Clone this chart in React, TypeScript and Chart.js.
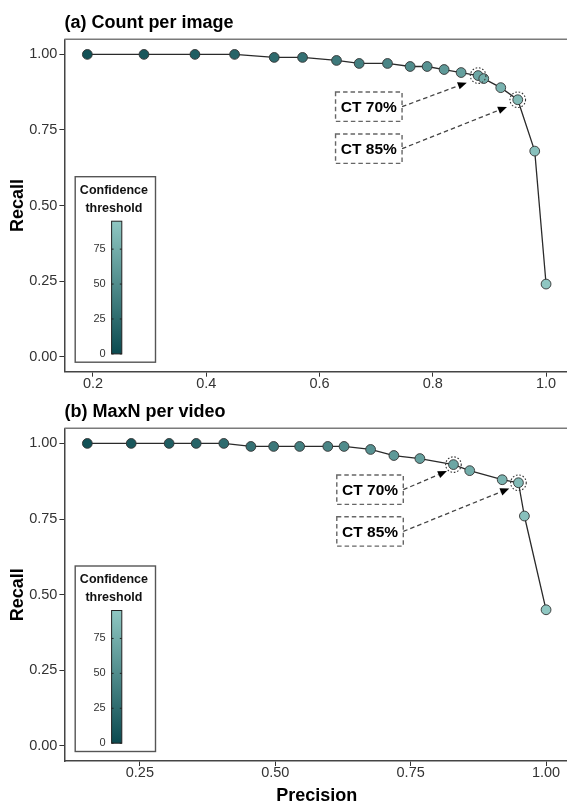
import React, { useEffect, useRef } from "react";
import { Chart, registerables } from "chart.js";
Chart.register(...registerables);

const FONT = "'Liberation Sans', Arial, Helvetica, sans-serif";
Chart.defaults.font.family = FONT;

// ---------- data ----------
const THRESHOLDS = [5, 10, 15, 20, 25, 30, 35, 40, 45, 50, 55, 60, 65, 70, 75, 80, 85, 90, 95];

const PRECISION_A = [0.19, 0.29, 0.38, 0.45, 0.52, 0.57, 0.63, 0.67, 0.72, 0.76, 0.79, 0.82, 0.85, 0.88, 0.89, 0.92, 0.95, 0.98, 1.0];
const RECALL_A = [1.0, 1.0, 1.0, 1.0, 0.99, 0.99, 0.98, 0.97, 0.97, 0.96, 0.96, 0.95, 0.94, 0.93, 0.92, 0.89, 0.85, 0.68, 0.24];

const PRECISION_B = [0.153, 0.234, 0.304, 0.354, 0.405, 0.455, 0.497, 0.545, 0.597, 0.627, 0.676, 0.719, 0.767, 0.829, 0.859, 0.919, 0.949, 0.96, 1.0];
const RECALL_B = [1.0, 1.0, 1.0, 1.0, 1.0, 0.99, 0.99, 0.99, 0.99, 0.99, 0.98, 0.96, 0.95, 0.93, 0.91, 0.88, 0.87, 0.76, 0.45];

const X_TICKS_A = [0.2, 0.4, 0.6, 0.8, 1.0];
const X_TICKS_B = [0.25, 0.5, 0.75, 1.0];
const Y_TICKS = [0, 0.25, 0.5, 0.75, 1.0];
const COLORBAR_TICKS = [0, 25, 50, 75];
const COLOR_LIMITS = [0, 95];

const CT_LABELS = ["CT 70%", "CT 85%"];
const CT_THRESHOLDS = [70, 85];
const LABEL_X_A = [0.687, 0.687];
const LABEL_Y_A = [0.827, 0.688];
const TIP_X_A = [0.86, 0.931];
const TIP_Y_A = [0.9065, 0.826];
const LABEL_X_B = [0.675, 0.675];
const LABEL_Y_B = [0.847, 0.709];
const TIP_X_B = [0.817, 0.932];
const TIP_Y_B = [0.9085, 0.851];

// ---------- colour scale ----------
const LOW = [11, 74, 80];
const HIGH = [143, 199, 194];
function colorFor(v: number) {
  const t = Math.max(0, Math.min(1, (v - COLOR_LIMITS[0]) / (COLOR_LIMITS[1] - COLOR_LIMITS[0])));
  const c = LOW.map((l, i) => Math.round(l + (HIGH[i] - l) * t));
  return `rgb(${c[0]},${c[1]},${c[2]})`;
}

function expand(vals: number[]) {
  const mn = Math.min(...vals), mx = Math.max(...vals);
  const r = mx - mn;
  return [mn - 0.05 * r, mx + 0.05 * r];
}

type PanelCfg = {
  title: string;
  prec: number[];
  rec: number[];
  xTicks: number[];
  xDec: number;
  labelX: number[];
  labelY: number[];
  tipX: number[];
  tipY: number[];
  padTop: number;
  canvasH: number;
  xAxisH: number;
  xTitle?: string;
};

function makeDecor(cfg: PanelCfg) {
  return {
    id: "decor",
    afterDraw(chart: any) {
      const ctx = chart.ctx as CanvasRenderingContext2D;
      const ca = chart.chartArea;
      const xs = chart.scales.x;
      const ys = chart.scales.y;
      ctx.save();

      // top border
      ctx.strokeStyle = "#7a7a7a";
      ctx.lineWidth = 1.5;
      ctx.beginPath();
      ctx.moveTo(ca.left, ca.top);
      ctx.lineTo(ca.right, ca.top);
      ctx.stroke();

      // panel title
      ctx.fillStyle = "#000";
      ctx.font = `bold 18px ${FONT}`;
      ctx.textAlign = "left";
      ctx.textBaseline = "middle";
      ctx.fillText(cfg.title, ca.left, ca.top - 16.6);

      // dotted circles around highlighted thresholds
      CT_THRESHOLDS.forEach((t) => {
        const i = THRESHOLDS.indexOf(t);
        const px = xs.getPixelForValue(cfg.prec[i]);
        const py = ys.getPixelForValue(cfg.rec[i]);
        ctx.strokeStyle = "#333";
        ctx.lineWidth = 1.1;
        ctx.setLineDash([1.6, 1.8]);
        ctx.beginPath();
        ctx.arc(px, py, 7.8, 0, Math.PI * 2);
        ctx.stroke();
      });
      ctx.setLineDash([]);

      // annotation boxes + arrows
      const bw = 66.5, bh = 29.3;
      CT_LABELS.forEach((lab, k) => {
        const cx = xs.getPixelForValue(cfg.labelX[k]);
        const cy = ys.getPixelForValue(cfg.labelY[k]);
        ctx.strokeStyle = "#666";
        ctx.lineWidth = 1.4;
        ctx.setLineDash([4.5, 3]);
        ctx.strokeRect(cx - bw / 2, cy - bh / 2, bw, bh);
        ctx.setLineDash([]);
        ctx.fillStyle = "#000";
        ctx.font = `bold 15.5px ${FONT}`;
        ctx.textAlign = "center";
        ctx.textBaseline = "middle";
        ctx.fillText(lab, cx, cy + 1);

        const sx = cx + bw / 2, sy = cy;
        const tx = xs.getPixelForValue(cfg.tipX[k]);
        const ty = ys.getPixelForValue(cfg.tipY[k]);
        const ang = Math.atan2(ty - sy, tx - sx);
        const hl = 9, hw = 3.8;
        const bxp = tx - hl * Math.cos(ang), byp = ty - hl * Math.sin(ang);
        ctx.strokeStyle = "#444";
        ctx.lineWidth = 1.3;
        ctx.setLineDash([4.5, 3]);
        ctx.beginPath();
        ctx.moveTo(sx, sy);
        ctx.lineTo(bxp, byp);
        ctx.stroke();
        ctx.setLineDash([]);
        ctx.fillStyle = "#000";
        ctx.beginPath();
        ctx.moveTo(tx, ty);
        ctx.lineTo(bxp + hw * Math.sin(ang), byp - hw * Math.cos(ang));
        ctx.lineTo(bxp - hw * Math.sin(ang), byp + hw * Math.cos(ang));
        ctx.closePath();
        ctx.fill();
      });

      // colour bar legend
      const lw = 80.3, lh = 185.5;
      const lx = ca.left + 10.8;
      const ly = ca.bottom - 9.5 - lh;
      ctx.fillStyle = "#fff";
      ctx.fillRect(lx, ly, lw, lh);
      ctx.strokeStyle = "#555";
      ctx.lineWidth = 1.4;
      ctx.strokeRect(lx, ly, lw, lh);
      ctx.fillStyle = "#111";
      ctx.font = `bold 12.5px ${FONT}`;
      ctx.textAlign = "center";
      ctx.textBaseline = "middle";
      ctx.fillText("Confidence", lx + 38.7, ly + 13.5);
      ctx.fillText("threshold", lx + 38.7, ly + 31.8);

      const barX = lx + 36.4, barW = 10.2;
      const barTop = ly + 44.5, barBot = ly + lh - 8.3;
      const v2y = (v: number) => barBot - ((v - COLOR_LIMITS[0]) / (COLOR_LIMITS[1] - COLOR_LIMITS[0])) * (barBot - barTop);
      const g = ctx.createLinearGradient(0, barBot, 0, barTop);
      g.addColorStop(0, colorFor(COLOR_LIMITS[0]));
      g.addColorStop(0.5, colorFor((COLOR_LIMITS[0] + COLOR_LIMITS[1]) / 2));
      g.addColorStop(1, colorFor(COLOR_LIMITS[1]));
      ctx.fillStyle = g;
      ctx.fillRect(barX, barTop, barW, barBot - barTop);
      ctx.strokeStyle = "#222";
      ctx.lineWidth = 1;
      ctx.strokeRect(barX, barTop, barW, barBot - barTop);
      ctx.font = `11px ${FONT}`;
      ctx.textAlign = "right";
      ctx.fillStyle = "#333";
      COLORBAR_TICKS.forEach((v) => {
        const y = v2y(v);
        ctx.fillText(String(v), lx + 30.5, y);
        ctx.strokeStyle = "#222";
        ctx.beginPath();
        ctx.moveTo(barX, y);
        ctx.lineTo(barX + 2, y);
        ctx.moveTo(barX + barW - 2, y);
        ctx.lineTo(barX + barW, y);
        ctx.stroke();
      });

      ctx.restore();
    },
  };
}

function Panel({ cfg, top }: { cfg: PanelCfg; top: number }) {
  const ref = useRef<HTMLCanvasElement>(null);
  useEffect(() => {
    const [xmin, xmax] = expand(cfg.prec);
    const [ymin, ymax] = expand([0, 1]);
    const chart = new Chart(ref.current as HTMLCanvasElement, {
      type: "scatter",
      data: {
        datasets: [
          {
            data: cfg.prec.map((x, i) => ({ x, y: cfg.rec[i] })),
            showLine: true,
            borderColor: "#2a2a2a",
            borderWidth: 1.3,
            pointBackgroundColor: THRESHOLDS.map((t) => colorFor(t)),
            pointBorderColor: "#333",
            pointBorderWidth: 0.9,
            pointRadius: 4.9,
            pointHoverRadius: 4.9,
          } as any,
        ],
      },
      options: {
        responsive: false,
        animation: false,
        devicePixelRatio: 1,
        events: [],
        layout: { padding: { left: 0, top: cfg.padTop, right: 6, bottom: 0 } },
        plugins: {
          legend: { display: false },
          tooltip: { enabled: false },
          title: { display: false },
        },
        scales: {
          x: {
            type: "linear",
            min: xmin,
            max: xmax,
            afterBuildTicks: (s: any) => {
              s.ticks = cfg.xTicks.map((v) => ({ value: v }));
            },
            afterFit: (s: any) => {
              s.height = cfg.xAxisH;
            },
            ticks: {
              callback: (v: any) => Number(v).toFixed(cfg.xDec),
              font: { size: 14.5, lineHeight: 1 },
              color: "#333",
              padding: 0,
              maxRotation: 0,
              autoSkip: false,
            },
            grid: { drawOnChartArea: false, drawTicks: true, tickLength: 5, color: "#333", lineWidth: 1 },
            border: { display: true, color: "#444", width: 1.5 },
            title: cfg.xTitle
              ? {
                  display: true,
                  text: cfg.xTitle,
                  color: "#000",
                  font: { size: 18, weight: "bold", lineHeight: 1.2 },
                  padding: { top: 0, bottom: 4 },
                }
              : { display: false },
          } as any,
          y: {
            type: "linear",
            min: ymin,
            max: ymax,
            afterBuildTicks: (s: any) => {
              s.ticks = Y_TICKS.map((v) => ({ value: v }));
            },
            afterFit: (s: any) => {
              s.width = 64.4;
            },
            ticks: {
              callback: (v: any) => Number(v).toFixed(2),
              font: { size: 14.5, lineHeight: 1 },
              color: "#333",
              padding: 2,
              autoSkip: false,
            },
            grid: { drawOnChartArea: false, drawTicks: true, tickLength: 5, color: "#333", lineWidth: 1 },
            border: { display: true, color: "#444", width: 1.5 },
            title: {
              display: true,
              text: "Recall",
              color: "#000",
              font: { size: 18, weight: "bold", lineHeight: 1.2 },
              padding: { top: 7.5, bottom: 0 },
            },
          } as any,
        },
      },
      plugins: [makeDecor(cfg) as any],
    });
    return () => chart.destroy();
  }, []);
  return (
    <canvas
      ref={ref}
      width={575}
      height={cfg.canvasH}
      style={{ position: "absolute", left: 0, top, width: 575, height: cfg.canvasH }}
    />
  );
}

const PANEL_A: PanelCfg = {
  title: "(a) Count per image",
  prec: PRECISION_A,
  rec: RECALL_A,
  xTicks: X_TICKS_A,
  xDec: 1,
  labelX: LABEL_X_A,
  labelY: LABEL_Y_A,
  tipX: TIP_X_A,
  tipY: TIP_Y_A,
  padTop: 39.3,
  canvasH: 400,
  xAxisH: 28.3,
};

const PANEL_B: PanelCfg = {
  title: "(b) MaxN per video",
  prec: PRECISION_B,
  rec: RECALL_B,
  xTicks: X_TICKS_B,
  xDec: 2,
  labelX: LABEL_X_B,
  labelY: LABEL_Y_B,
  tipX: TIP_X_B,
  tipY: TIP_Y_B,
  padTop: 38.3,
  canvasH: 421,
  xAxisH: 50,
  xTitle: "Precision",
};

export default function App() {
  return (
    <div
      style={{
        position: "absolute",
        left: 0,
        top: 0,
        width: 567,
        height: 805,
        overflow: "hidden",
        background: "#fff",
      }}
    >
      <Panel cfg={PANEL_A} top={0} />
      <Panel cfg={PANEL_B} top={390} />
    </div>
  );
}
